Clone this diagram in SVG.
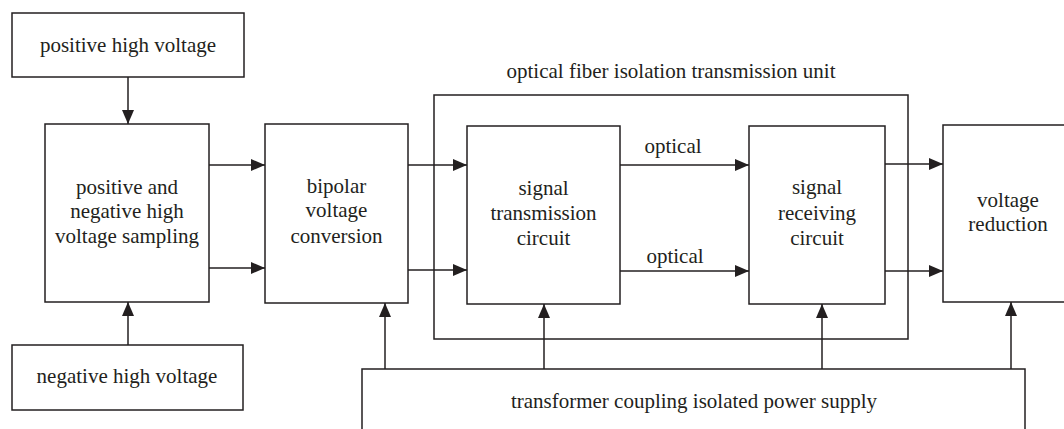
<svg xmlns="http://www.w3.org/2000/svg" width="1064" height="429" viewBox="0 0 1064 429" font-family="Liberation Serif, Times New Roman, DejaVu Serif, serif" font-size="21">
<style>
.box{fill:none;stroke:#231f20;stroke-width:1.5}
.ln{fill:none;stroke:#231f20;stroke-width:1.5;marker-end:url(#ah)}
.t{fill:#231f20;text-anchor:middle}
</style>
<defs>
<marker id="ah" markerUnits="userSpaceOnUse" markerWidth="14" markerHeight="12" refX="14" refY="6" orient="auto">
<path d="M0,0 L14,6 L0,12 z" fill="#231f20"/>
</marker>
</defs>
<rect width="1064" height="429" fill="#fff"/>
<g id="unit">
<rect class="box" x="434" y="95" width="474" height="244"/>
<text class="t" x="671" y="78" font-family="Liberation Serif, serif">optical fiber isolation transmission unit</text>
</g>
<g id="pos">
<rect class="box" x="12" y="13" width="232" height="64"/>
<text class="t" x="128" y="52" font-family="Liberation Serif, serif">positive high voltage</text>
</g>
<g id="neg">
<rect class="box" x="12" y="345" width="231" height="65"/>
<text class="t" x="127" y="383" font-family="Liberation Serif, serif">negative high voltage</text>
</g>
<g id="sampling" font-family="Liberation Serif, serif">
<rect class="box" x="45" y="124" width="164" height="178"/>
<text class="t" x="127" y="194">positive and</text>
<text class="t" x="127" y="218">negative high</text>
<text class="t" x="127" y="243">voltage sampling</text>
</g>
<g id="bipolar" font-family="Liberation Serif, serif">
<rect class="box" x="265" y="124" width="143" height="179"/>
<text class="t" x="336.5" y="193">bipolar</text>
<text class="t" x="336.5" y="217">voltage</text>
<text class="t" x="336.5" y="243">conversion</text>
</g>
<g id="transmission" font-family="Liberation Serif, serif">
<rect class="box" x="467" y="126" width="153" height="178"/>
<text class="t" x="543.5" y="195">signal</text>
<text class="t" x="543.5" y="220">transmission</text>
<text class="t" x="543.5" y="245">circuit</text>
</g>
<g id="receiving" font-family="Liberation Serif, serif">
<rect class="box" x="749" y="126" width="136" height="178"/>
<text class="t" x="817" y="194">signal</text>
<text class="t" x="817" y="220">receiving</text>
<text class="t" x="817" y="245">circuit</text>
</g>
<g id="reduction" font-family="Liberation Serif, serif">
<rect class="box" x="943" y="125" width="130" height="177"/>
<text class="t" x="1008" y="207">voltage</text>
<text class="t" x="1008" y="231">reduction</text>
</g>
<g id="power" font-family="Liberation Serif, serif">
<rect class="box" x="362" y="369" width="663" height="70"/>
<text class="t" x="694" y="408">transformer coupling isolated power supply</text>
</g>
<g id="connectors" font-family="Liberation Serif, serif">
<line class="ln" x1="128" y1="77" x2="128" y2="124"/>
<line class="ln" x1="128" y1="345" x2="128" y2="302"/>
<line class="ln" x1="209" y1="165" x2="265" y2="165"/>
<line class="ln" x1="209" y1="268" x2="265" y2="268"/>
<line class="ln" x1="408" y1="165" x2="467" y2="165"/>
<line class="ln" x1="408" y1="270" x2="467" y2="270"/>
<line class="ln" x1="620" y1="165" x2="749" y2="165"/>
<line class="ln" x1="620" y1="271" x2="749" y2="271"/>
<line class="ln" x1="885" y1="164" x2="943" y2="164"/>
<line class="ln" x1="885" y1="271" x2="943" y2="271"/>
<line class="ln" x1="385" y1="369" x2="385" y2="303"/>
<line class="ln" x1="544" y1="369" x2="544" y2="304"/>
<line class="ln" x1="822" y1="369" x2="822" y2="304"/>
<line class="ln" x1="1011" y1="369" x2="1011" y2="302"/>
<text class="t" x="673" y="153">optical</text>
<text class="t" x="675" y="263">optical</text>
</g>
</svg>
